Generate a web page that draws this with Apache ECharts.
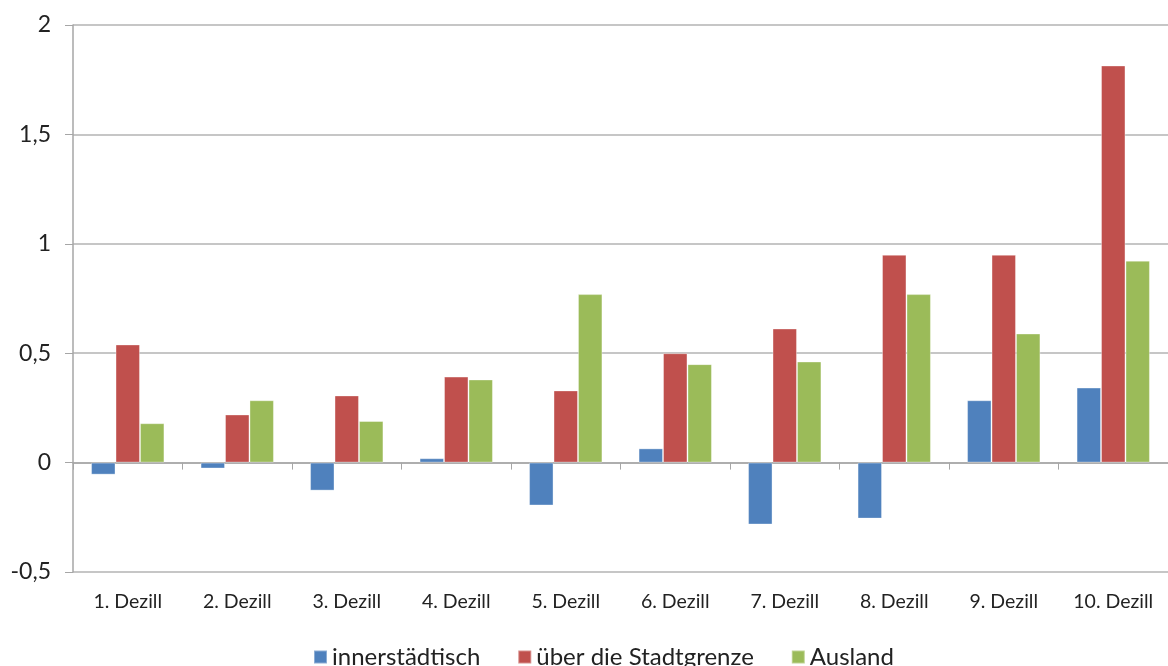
<!DOCTYPE html>
<html>
<head>
<meta charset="utf-8">
<script src="https://cdn.jsdelivr.net/npm/echarts@6/dist/echarts.min.js"></script>
<style>html,body{margin:0;padding:0;background:#fff}#c{width:1168px;height:666px}</style>
</head>
<body>
<div id="c"></div>
<script>
const categories = ['1. Dezill','2. Dezill','3. Dezill','4. Dezill','5. Dezill','6. Dezill','7. Dezill','8. Dezill','9. Dezill','10. Dezill'];
const seriesNames = ['innerstädtisch','über die Stadtgrenze','Ausland'];
const innerstaedtisch = [-0.055,-0.027,-0.128,0.02,-0.196,0.065,-0.283,-0.256,0.285,0.343];
const stadtgrenze = [0.54,0.22,0.307,0.393,0.33,0.5,0.613,0.95,0.95,1.815];
const ausland = [0.18,0.285,0.19,0.38,0.77,0.45,0.462,0.77,0.59,0.923];
const colors = ['#4F81BD','#C0504D','#9BBB59'];
const FONT = 'Lato';

const chart = echarts.init(document.getElementById('c'));
const mk = (name, data, i) => ({
  name, type: 'bar', data, xAxisIndex: 0,
  barGap: '0%', barCategoryGap: '33%',
  itemStyle: { color: colors[i], borderColor: 'rgba(255,255,255,0.35)', borderWidth: 1 },
  emphasis: { disabled: true }
});
chart.setOption({
  animation: false,
  textStyle: { fontFamily: FONT },
  grid: { left: 73, right: 0, top: 25, bottom: 94 },
  legend: {
    left: 313, top: 645, padding: 0, itemWidth: 13, itemHeight: 13, itemGap: 37,
    icon: 'rect',
    textStyle: { fontFamily: FONT, fontSize: 24, color: '#222' },
    data: seriesNames
  },
  xAxis: [
    { type: 'category', data: categories, position: 'bottom',
      axisLine: { onZero: true, lineStyle: { color: '#a6a6a6', width: 1.5 } },
      axisTick: { show: true, length: 7, lineStyle: { color: '#a6a6a6' } },
      axisLabel: { show: false } },
    { type: 'category', data: categories, position: 'bottom', gridIndex: 0,
      axisLine: { show: false, onZero: false }, axisTick: { show: false },
      axisLabel: { show: true, margin: 20, fontFamily: FONT, fontSize: 19.5, color: '#222' } }
  ],
  yAxis: {
    type: 'value', min: -0.5, max: 2, interval: 0.5,
    axisLine: { show: true, lineStyle: { color: '#a6a6a6', width: 1.5 } },
    axisTick: { show: true, length: 8, lineStyle: { color: '#a6a6a6' } },
    splitLine: { lineStyle: { color: '#b3b3b3', width: 1.5 } },
    axisLabel: { margin: 22, fontFamily: FONT, fontSize: 23, color: '#222',
      formatter: v => String(v).replace('.', ',') }
  },
  series: [mk(seriesNames[0], innerstaedtisch, 0), mk(seriesNames[1], stadtgrenze, 1), mk(seriesNames[2], ausland, 2)]
});
</script>
</body>
</html>
